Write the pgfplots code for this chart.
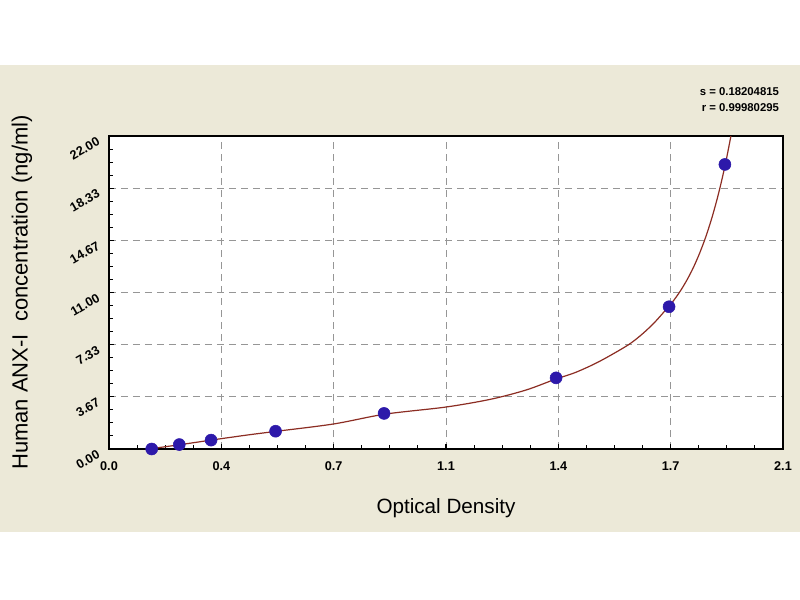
\documentclass[border=0pt]{standalone}
\usepackage{fontspec}
\setmainfont{Liberation Sans}
\usepackage{pgfplots}
\pgfplotsset{compat=1.18}

\definecolor{panel}{RGB}{236,233,216}
\definecolor{dotblue}{RGB}{45,25,170}
\definecolor{fitline}{RGB}{140,45,35}
\definecolor{gridgray}{RGB}{150,150,150}

\begin{document}
\begin{tikzpicture}
% page is 800x600 px at 0.75pt per px; the axis frame corner sits at (0,0)
\fill[white] (-81.75pt,-113.25pt) rectangle (518.25pt,336.75pt);
\fill[panel] (-81.75pt,-62.25pt) rectangle (518.25pt,288pt);
\begin{axis}[
  at={(0,0)}, anchor=south west,
  scale only axis,
  width=505.5pt, height=234.75pt,
  xmin=0, xmax=2.1, ymin=0, ymax=22,
  axis background/.style={fill=white},
  axis line style={line width=1.4pt},
  xtick={0,0.35,0.7,1.05,1.4,1.75,2.1},
  xticklabels={0.0,0.4,0.7,1.1,1.4,1.7,2.1},
  ytick={0,3.666667,7.333333,11,14.666667,18.333333,22},
  yticklabels={0.00,3.67,7.33,11.00,14.67,18.33,22.00},
  minor x tick num=3, minor y tick num=3,
  tick align=inside, xtick pos=bottom, ytick pos=left,
  major tick length=4pt, minor tick length=3pt,
  tick style={black, line width=0.8pt},
  grid=major,
  major grid style={gridgray, dash pattern=on 5pt off 4pt, line width=0.6pt},
  ticklabel style={font=\fontsize{9.5}{11}\selectfont\bfseries},
  xticklabel style={yshift=-6pt},
  yticklabel style={rotate=30, anchor=east, xshift=-5pt, yshift=1pt},
  xlabel={Optical Density},
  ylabel={Human ANX-I\ \ concentration (ng/ml)},
  xlabel style={font=\fontsize{15.5}{18}\selectfont,
    at={(axis description cs:0.5,-0.1885)}, anchor=center},
  ylabel style={font=\fontsize{16.5}{19}\selectfont,
    at={(axis description cs:-0.129,0.5)}, anchor=center},
  clip mode=individual,
]
% fitted standard curve
\addplot[fitline, line width=0.9pt, smooth, mark=none] coordinates {
  (0.13,0.02) (0.22,0.30) (0.32,0.63) (0.43,0.98) (0.52,1.24)
  (0.70,1.76) (0.86,2.45) (1.05,2.95) (1.19,3.50) (1.30,4.15)
  (1.39,4.90) (1.45,5.35) (1.51,5.95) (1.56,6.55) (1.62,7.35)
  (1.66,8.05) (1.70,8.90) (1.745,10.05) (1.76,10.46) (1.78,11.10)
  (1.80,11.85) (1.82,12.72) (1.84,13.75) (1.86,14.95) (1.88,16.37)
  (1.90,18.03) (1.92,19.98) (1.94,22.27) (1.95,23.55)
};
% standards
\addplot[only marks, mark=*, mark size=4.5pt, color=dotblue,
  mark options={fill=dotblue, draw=dotblue}] coordinates {
  (0.133,0) (0.219,0.3125) (0.318,0.625) (0.519,1.25)
  (0.857,2.5) (1.393,5) (1.745,10) (1.919,20)
};
\end{axis}
\node[anchor=east, font=\fontsize{8.5}{10}\selectfont\bfseries] at (506pt,267.75pt) {s = 0.18204815};
\node[anchor=east, font=\fontsize{8.5}{10}\selectfont\bfseries] at (506pt,255.75pt) {r = 0.99980295};
\end{tikzpicture}
\end{document}
